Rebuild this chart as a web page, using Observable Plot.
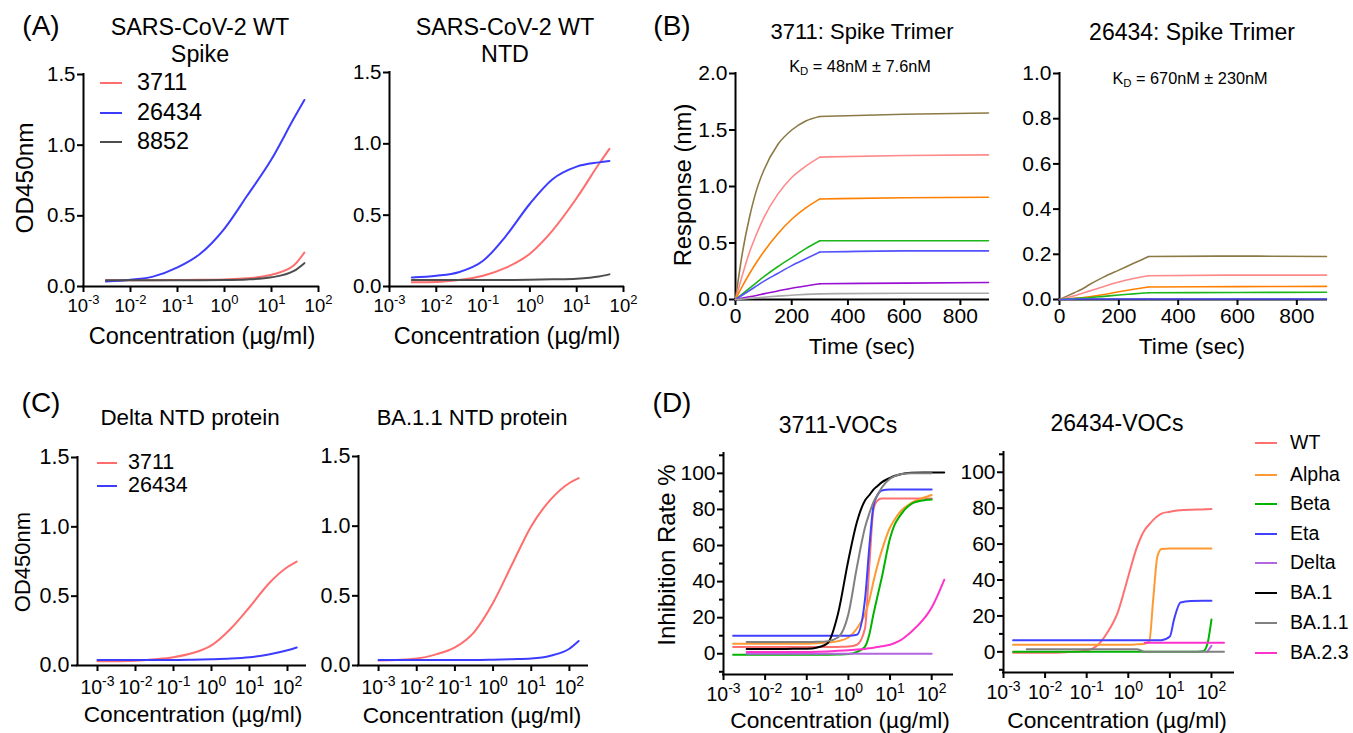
<!DOCTYPE html>
<html>
<head>
<meta charset="utf-8">
<script src="https://cdn.jsdelivr.net/npm/d3@7"></script>
<script src="https://cdn.jsdelivr.net/npm/@observablehq/plot@0.6"></script>
<style>
  html, body { margin: 0; padding: 0; background: #fff; }
  #root { position: relative; width: 1353px; height: 733px; overflow: hidden; background: #fff;
    font-family: "Liberation Sans", Arial, Helvetica, sans-serif; color: #000; }
  .lbl { position: absolute; white-space: nowrap; line-height: 1; transform: translate(-50%, -50%); }
  .rot { transform: translate(-50%, -50%) rotate(-90deg); }
  .plot { position: absolute; }
  .leg { position: absolute; white-space: nowrap; line-height: 1; }
  .leg span.sw { position: absolute; }
  .leg span.tx { position: absolute; transform: translateY(-50%); line-height: 0.9; }
  sub { font-size: 0.7em; vertical-align: -0.25em; }
</style>
</head>
<body>
<div id="root"></div>
<script>
// ---------------- DATA ----------------
// Panel A: ELISA vs SARS-CoV-2 WT (concentration in µg/ml)
const concA = [0.003, 0.01, 0.03, 0.1, 0.3, 1, 3, 10, 30, 50];
const spike3711  = [0.045, 0.045, 0.045, 0.046, 0.047, 0.05, 0.058, 0.083, 0.15, 0.24];
const spike26434 = [0.035, 0.048, 0.07, 0.135, 0.23, 0.41, 0.64, 0.9, 1.19, 1.32];
const spike8852  = [0.045, 0.045, 0.045, 0.045, 0.045, 0.046, 0.05, 0.065, 0.11, 0.165];
const ntd3711    = [0.03, 0.032, 0.045, 0.075, 0.13, 0.23, 0.39, 0.62, 0.86, 0.965];
const ntd26434   = [0.063, 0.075, 0.1, 0.18, 0.35, 0.58, 0.75, 0.84, 0.87, 0.88];
const ntd8852    = [0.045, 0.045, 0.045, 0.045, 0.046, 0.047, 0.05, 0.055, 0.07, 0.085];
const antibodiesA = ["3711", "26434", "8852"];
const colorsA = ["#ff6e6e", "#3c3cff", "#4d4d4d"];

// Panel B: BLI kinetics (time in s, response in nm)
const concLevels = ["c1", "c2", "c3", "c4", "c5", "c6", "c7"];
const colorsB = ["#8b7a45", "#ff8a8a", "#ff8000", "#1cb51c", "#5252ff", "#9a10d0", "#a8a8a8"];
const tAssoc = [0, 25, 50, 75, 100, 150, 200, 250, 300];
const tDissoc = [300, 600, 900];
const b3711Assoc = [
  [0, 0.42, 0.73, 0.97, 1.14, 1.37, 1.50, 1.58, 1.62],
  [0, 0.22, 0.42, 0.58, 0.72, 0.93, 1.08, 1.18, 1.26],
  [0, 0.12, 0.23, 0.33, 0.42, 0.58, 0.71, 0.81, 0.89],
  [0, 0.05, 0.10, 0.15, 0.20, 0.29, 0.37, 0.45, 0.52],
  [0, 0.04, 0.08, 0.12, 0.16, 0.23, 0.30, 0.36, 0.42],
  [0, 0.012, 0.025, 0.035, 0.05, 0.075, 0.10, 0.12, 0.14],
  [0, 0.005, 0.01, 0.015, 0.02, 0.03, 0.038, 0.045, 0.05]
];
const b3711Dissoc = [
  [1.62, 1.64, 1.65], [1.26, 1.275, 1.28], [0.89, 0.90, 0.905], [0.52, 0.52, 0.52],
  [0.42, 0.43, 0.43], [0.14, 0.145, 0.15], [0.05, 0.055, 0.055]
];
const b26434Assoc = [
  [0, 0.015, 0.03, 0.045, 0.065, 0.10, 0.13, 0.16, 0.19],
  [0, 0.008, 0.017, 0.027, 0.037, 0.058, 0.077, 0.093, 0.105],
  [0, 0.002, 0.005, 0.008, 0.012, 0.022, 0.034, 0.045, 0.055],
  [0, 0.002, 0.004, 0.006, 0.008, 0.014, 0.02, 0.025, 0.03],
  [0, 0.001, 0.002, 0.002, 0.002, 0.002, 0.002, 0.002, 0.002],
  [null, null, null, null, null, null, null, null, null],
  [null, null, null, null, null, null, null, null, null]
];
const b26434Dissoc = [
  [0.19, 0.192, 0.19], [0.105, 0.108, 0.108], [0.055, 0.057, 0.058], [0.03, 0.031, 0.032],
  [0.002, 0.002, 0.002], [null, null, null], [null, null, null]
];

// Panel C: ELISA vs variant NTD proteins
const concC = [0.001, 0.01, 0.032, 0.1, 0.32, 1, 3.2, 10, 32, 100, 175];
const delta3711  = [0.03, 0.035, 0.045, 0.06, 0.09, 0.145, 0.265, 0.42, 0.59, 0.71, 0.75];
const delta26434 = [0.04, 0.04, 0.04, 0.04, 0.042, 0.045, 0.05, 0.06, 0.08, 0.11, 0.13];
const ba11_3711  = [0.035, 0.05, 0.08, 0.13, 0.24, 0.45, 0.73, 1.0, 1.19, 1.31, 1.345];
const ba11_26434 = [0.04, 0.04, 0.04, 0.04, 0.04, 0.042, 0.045, 0.05, 0.07, 0.12, 0.175];
const antibodiesC = ["3711", "26434"];
const colorsC = ["#ff6e6e", "#3c3cff"];

// Panel D: pseudovirus neutralization (inhibition %)
const variants = ["WT", "Alpha", "Beta", "Eta", "Delta", "BA.1", "BA.1.1", "BA.2.3"];
const colorsD = ["#ff7070", "#ff9933", "#00b300", "#4040ff", "#b266e0", "#000000", "#808080", "#ff33cc"];
const concD = [0.0017, 0.0036, 0.01, 0.032, 0.1, 0.18, 0.32, 0.56, 1, 1.6, 2.5, 3.2, 4, 5, 6.3, 10, 12.6, 18, 32, 63, 79, 100, 200];
const d3711 = {
  "WT":     [3.7, 3.7, 3.7, 3.7, 3.7, 3.7, 3.7, 3.8, 4, 5, 14, 50, 80, 85, 86, 86, 86, 86, 86, 86, 86, 86, null],
  "Alpha":  [5.5, 5.5, 5.5, 5.5, 5.6, 5.8, 6.2, 7, 9, 14, 22, 30, 40, 49, 57, 70, 74, 79, 83.5, 86.5, 87.2, 88, null],
  "Beta":   [-0.5, -0.5, -0.5, -0.5, -0.5, -0.5, -0.5, -0.4, -0.2, 1, 4, 11, 22, 32, 42, 64, 71, 77, 83, 85, 85.3, 85.5, null],
  "Eta":    [10, 10, 10, 10, 10, 10, 10, 10, 10, 10.5, 30, 60, 82, 88, 90.5, 91, 91, 91, 91, 91, 91, 91, null],
  "Delta":  [null, 0, 0, 0, 0, 0, 0, 0, 0, 0, 0, 0, 0, 0, 0, 0, 0, 0, 0, 0, 0, 0, null],
  "BA.1":   [null, 2.6, 2.6, 2.7, 2.8, 3.5, 6, 22, 52, 73, 85, 88, 91, 93, 95, 97.5, 98.5, 99.5, 100.3, 100.5, 100.5, 100.5, 100.5],
  "BA.1.1": [null, 6.5, 6.5, 6.5, 6.5, 6.6, 7, 9, 22, 48, 70, 78, 84, 88, 92, 97, 98.3, 99.5, 100, 100, 100, 100, null],
  "BA.2.3": [null, 1, 1, 1, 1, 1.1, 1.3, 1.6, 2, 2.3, 2.7, 3, 3.3, 3.7, 4.1, 5, 5.8, 7.5, 12, 19, 22, 25.7, 41]
};
const d26434 = {
  "WT":     [-0.5, -0.5, -0.5, -0.2, 0.8, 3.5, 11, 22, 42, 58, 68, 71, 73.5, 75.5, 77, 78, 78.4, 78.8, 79.1, 79.3, 79.4, 79.5, null],
  "Alpha":  [4, 4, 4, 4, 4, 4, 4, 4, 4, 4.2, 4.5, 6, 30, 53, 57.3, 57.5, 57.5, 57.5, 57.5, 57.5, 57.5, 57.5, null],
  "Beta":   [0, 0, 0, 0, 0, 0, 0, 0, 0, 0, 0, 0, 0, 0, 0, 0, 0, 0, 0, 0.3, 4, 18, null],
  "Eta":    [6.5, 6.5, 6.5, 6.5, 6.5, 6.5, 6.5, 6.5, 6.5, 6.5, 6.5, 6.5, 6.5, 6.5, 6.5, 8.5, 18, 27.5, 28.3, 28.4, 28.4, 28.4, null],
  "Delta":  [null, null, null, null, null, null, null, null, null, null, null, null, null, null, null, null, null, null, null, null, 0, 3.3, null],
  "BA.1":   [null, null, null, null, null, null, null, null, null, null, null, null, null, null, null, null, null, null, null, null, null, null, null],
  "BA.1.1": [null, 1.5, 1.5, 1.5, 1.5, 1.5, 1.5, 1.5, 1.5, 1.5, 0, 0, 0, 0, 0, 0, 0, 0, 0, 0, 0, 0, 0],
  "BA.2.3": [null, null, null, null, null, null, null, null, null, null, 5.1, 5.1, 5.1, 5.1, 5.1, 5.1, 5.1, 5.1, 5.1, 5.1, 5.1, 5.1, 5.1]
};

// Tick values
const decadeTicks = [1e-3, 1e-2, 1e-1, 1, 10, 100];
const odTicks = [0, 0.5, 1.0, 1.5];
const bliTicks1 = [0, 0.5, 1.0, 1.5, 2.0];
const bliTicks2 = [0, 0.2, 0.4, 0.6, 0.8, 1.0];
const timeTicks = [0, 200, 400, 600, 800];
const inhTicks = [0, 20, 40, 60, 80, 100];
const inhMinor = [-10, 10, 30, 50, 70, 90, 110];

// ---------------- HELPERS ----------------
const FONT = '"Liberation Sans", Arial, Helvetica, sans-serif';
const SVGNS = "http://www.w3.org/2000/svg";
const root = document.getElementById("root");

function tidy(xs, names, seriesList, extra = {}) {
  const out = [];
  names.forEach((name, k) => {
    seriesList[k].forEach((y, i) => {
      if (y != null) out.push({x: xs[i], y, s: name, ...extra});
    });
  });
  return out;
}

function superscript(svg, supSize, rise) {
  svg.querySelectorAll('[aria-label="x-axis tick label"] text').forEach(t => {
    const e = t.textContent;
    t.textContent = "";
    const b = document.createElementNS(SVGNS, "tspan");
    b.textContent = "10";
    const s = document.createElementNS(SVGNS, "tspan");
    s.textContent = e;
    s.setAttribute("dy", String(-rise));
    s.setAttribute("font-size", String(supSize));
    t.append(b, s);
  });
}

function panel(o) {
  const marks = [
    Plot.ruleX([o.x.domain[0]], {stroke: "#000", strokeWidth: 2, strokeLinecap: "square"}),
    Plot.ruleY([o.y.domain[0]], {stroke: "#000", strokeWidth: 2, strokeLinecap: "square"}),
    Plot.axisY({ticks: o.yTicks, tickFormat: o.yFmt, tickSize: 6, tickPadding: 2, fontSize: o.yFont || 21, strokeWidth: 2, label: null}),
    Plot.axisX({ticks: o.xTicks, tickFormat: o.xFmt, tickSize: 6, tickPadding: o.padX, fontSize: o.xFont, strokeWidth: 2, label: null})
  ];
  if (o.yMinor) marks.push(Plot.axisY({ticks: o.yMinor, tickFormat: () => "", tickSize: 4, strokeWidth: 2, label: null}));
  marks.push(...o.marks);
  const p = Plot.plot({
    width: o.width, height: o.height,
    marginTop: o.mt, marginRight: o.mr, marginBottom: o.mb, marginLeft: o.ml,
    style: {fontFamily: FONT, background: "transparent", overflow: "visible", color: "#000"},
    x: {...o.x, label: null},
    y: {...o.y, label: null},
    color: o.color,
    marks
  });
  if (o.sup) superscript(p, o.sup[0], o.sup[1]);
  p.classList.add("plot");
  p.style.left = o.left + "px";
  p.style.top = o.top + "px";
  p.style.position = "absolute";
  root.appendChild(p);
  return p;
}

function label(html, x, y, size, rotate = false) {
  const d = document.createElement("div");
  d.className = "lbl" + (rotate ? " rot" : "");
  d.style.left = x + "px";
  d.style.top = y + "px";
  d.style.fontSize = size + "px";
  d.innerHTML = html;
  root.appendChild(d);
}

function legend(names, colors, x1, x2, xt, ys, size, thick) {
  names.forEach((n, i) => {
    const d = document.createElement("div");
    d.className = "leg";
    d.style.left = "0px"; d.style.top = "0px";
    const sw = document.createElement("span");
    sw.className = "sw";
    sw.style.left = x1 + "px"; sw.style.top = (ys[i] - thick / 2) + "px";
    sw.style.width = (x2 - x1) + "px"; sw.style.height = thick + "px";
    sw.style.background = colors[i];
    const tx = document.createElement("span");
    tx.className = "tx";
    tx.style.left = xt + "px"; tx.style.top = ys[i] + "px"; tx.style.fontSize = size + "px";
    tx.textContent = n;
    d.append(sw, tx);
    root.appendChild(d);
  });
}

const expFmt = d => String(Math.round(Math.log10(d)));
const f1 = d3.format(".1f");
const lineOpts = (w) => ({x: "x", y: "y", z: "s", stroke: "s", strokeWidth: w, curve: "monotone-x"});

// ---------------- PANEL A ----------------
const colA = {domain: antibodiesA, range: colorsA};
panel({
  left: 0, top: 0, width: 340, height: 360, mt: 74, mr: 22, mb: 74, ml: 83,
  x: {type: "log", domain: [1e-3, 1e2]}, y: {domain: [0, 1.5]}, color: colA,
  marks: [Plot.line(tidy(concA, antibodiesA, [spike3711, spike26434, spike8852]), lineOpts(2))],
  xTicks: decadeTicks, xFmt: expFmt, xFont: 18.5, padX: 6, sup: [13, 8],
  yTicks: odTicks, yFmt: f1, yFont: 20.5
});
panel({
  left: 300, top: 0, width: 340, height: 360, mt: 72, mr: 17, mb: 74, ml: 89,
  x: {type: "log", domain: [1e-3, 1e2]}, y: {domain: [0, 1.5]}, color: colA,
  marks: [Plot.line(tidy(concA, antibodiesA, [ntd3711, ntd26434, ntd8852]), lineOpts(2))],
  xTicks: decadeTicks, xFmt: expFmt, xFont: 18.5, padX: 6, sup: [13, 8],
  yTicks: odTicks, yFmt: f1, yFont: 20.5
});

// ---------------- PANEL B ----------------
const colB = {domain: concLevels, range: colorsB};
function bliData(assoc, dissoc) {
  return [
    ...tidy(tAssoc, concLevels, assoc, {p: "a"}),
    ...tidy(tDissoc, concLevels, dissoc, {p: "d"})
  ];
}
const bliLine = {x: "x", y: "y", z: d => d.s + d.p, stroke: "s", strokeWidth: 1.6, curve: "monotone-x"};
panel({
  left: 640, top: 0, width: 360, height: 370, mt: 73, mr: 12, mb: 71, ml: 95,
  x: {domain: [0, 900]}, y: {domain: [0, 2]}, color: colB,
  marks: [Plot.line(bliData(b3711Assoc, b3711Dissoc), bliLine)],
  xTicks: timeTicks, xFmt: d3.format("d"), xFont: 21, padX: 3,
  yTicks: bliTicks1, yFmt: f1
});
panel({
  left: 990, top: 0, width: 363, height: 370, mt: 73, mr: 27, mb: 71, ml: 69,
  x: {domain: [0, 900]}, y: {domain: [0, 1]}, color: colB,
  marks: [Plot.line(bliData(b26434Assoc, b26434Dissoc), bliLine)],
  xTicks: timeTicks, xFmt: d3.format("d"), xFont: 21, padX: 3,
  yTicks: bliTicks2, yFmt: f1
});

// ---------------- PANEL C ----------------
const colC = {domain: antibodiesC, range: colorsC};
const domC = [Math.pow(10, -3.526), Math.pow(10, 2.474)];
panel({
  left: 0, top: 380, width: 330, height: 353, mt: 77, mr: 25, mb: 68, ml: 77,
  x: {type: "log", domain: domC}, y: {domain: [0, 1.5]}, color: colC,
  marks: [Plot.line(tidy(concC, antibodiesC, [delta3711, delta26434]), lineOpts(2))],
  xTicks: decadeTicks, xFmt: expFmt, xFont: 19.5, padX: 9, sup: [14, 8],
  yTicks: odTicks, yFmt: f1, yFont: 21.5
});
panel({
  left: 300, top: 380, width: 330, height: 353, mt: 76, mr: 43, mb: 68, ml: 58,
  x: {type: "log", domain: domC}, y: {domain: [0, 1.5]}, color: colC,
  marks: [Plot.line(tidy(concC, antibodiesC, [ba11_3711, ba11_26434]), lineOpts(2))],
  xTicks: decadeTicks, xFmt: expFmt, xFont: 19.5, padX: 9, sup: [14, 8],
  yTicks: odTicks, yFmt: f1, yFont: 21.5
});

// ---------------- PANEL D ----------------
const colD = {domain: variants, range: colorsD};
panel({
  left: 640, top: 380, width: 330, height: 353, mt: 73, mr: 18, mb: 59, ml: 83,
  x: {type: "log", domain: [1e-3, Math.pow(10, 2.5)]}, y: {domain: [-11.5, 111]}, color: colD,
  marks: [Plot.line(tidy(concD, variants, variants.map(v => d3711[v])), lineOpts(2))],
  xTicks: decadeTicks, xFmt: expFmt, xFont: 19.5, padX: 7, sup: [14, 8],
  yTicks: inhTicks, yFmt: d3.format("d"), yMinor: inhMinor
});
panel({
  left: 960, top: 380, width: 290, height: 353, mt: 72, mr: 17, mb: 61, ml: 43,
  x: {type: "log", domain: [1e-3, Math.pow(10, 2.53)]}, y: {domain: [-11.5, 111]}, color: colD,
  marks: [Plot.line(tidy(concD, variants, variants.map(v => d26434[v])), lineOpts(2))],
  xTicks: decadeTicks, xFmt: expFmt, xFont: 19.5, padX: 7, sup: [14, 8],
  yTicks: inhTicks, yFmt: d3.format("d"), yMinor: inhMinor
});

// ---------------- TEXT ----------------
label("(A)", 41, 26, 28);
label("(B)", 672, 26, 28);
label("(C)", 41, 403, 28);
label("(D)", 672, 403, 28);

label("SARS-CoV-2 WT", 200, 28, 23.3);
label("Spike", 200, 55, 23.3);
label("SARS-CoV-2 WT", 505, 28, 23.3);
label("NTD", 505, 55, 23.3);
label("3711: Spike Trimer", 862, 32, 22);
label("26434: Spike Trimer", 1192, 32, 23);
label("K<sub>D</sub> = 48nM ± 7.6nM", 860, 68, 16.3);
label("K<sub>D</sub> = 670nM ± 230nM", 1190, 80, 16.3);
label("Delta NTD protein", 190, 418, 22.4);
label("BA.1.1 NTD protein", 472, 418, 22);
label("3711-VOCs", 838, 425, 23);
label("26434-VOCs", 1117, 423, 23);

label("OD450nm", 25, 178, 24.4, true);
label("Response (nm)", 683, 185, 23.8, true);
label("OD450nm", 23, 562, 22, true);
label("Inhibition Rate %", 667, 555, 24, true);

label("Concentration (µg/ml)", 202, 337, 23.5);
label("Concentration (µg/ml)", 507, 337, 23.5);
label("Time (sec)", 862, 346, 22.7);
label("Time (sec)", 1192, 346, 22.7);
label("Concentration (µg/ml)", 193, 714, 22.7);
label("Concentration (µg/ml)", 472, 715, 22.7);
label("Concentration (µg/ml)", 840, 720, 22.8);
label("Concentration (µg/ml)", 1117, 720, 22.8);

legend(antibodiesA, colorsA, 100, 122, 137, [83, 113, 142], 23.4, 2);
legend(antibodiesC, colorsC, 97, 117, 128, [463, 486], 21.5, 2);
legend(variants, colorsD, 1255, 1277, 1290, [443, 475, 504, 534, 563, 593, 623, 653], 19.5, 2.5);
</script>
</body>
</html>
